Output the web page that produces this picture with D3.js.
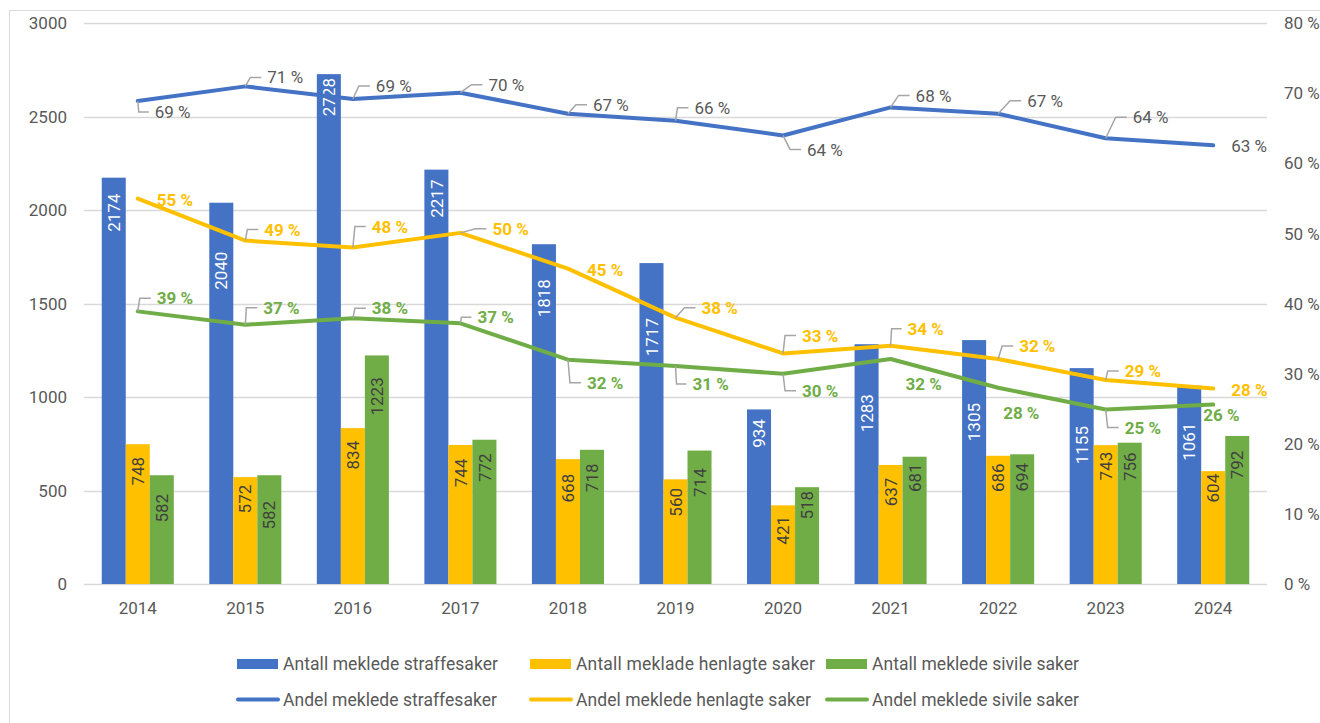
<!DOCTYPE html>
<html>
<head>
<meta charset="utf-8">
<script src="https://cdn.jsdelivr.net/npm/d3@7/dist/d3.min.js"></script>
<style>
  html, body { margin: 0; padding: 0; background: #fff; }
  svg { display: block; font-family: Roboto, "Open Sans", sans-serif; }
</style>
</head>
<body>
<svg id="chart" width="1320" height="723"></svg>
<script>
// ---- DATA ----
const years = ["2014","2015","2016","2017","2018","2019","2020","2021","2022","2023","2024"];
const antallStraff   = [2174, 2040, 2728, 2217, 1818, 1717, 934, 1283, 1305, 1155, 1061];
const antallHenlagte = [748, 572, 834, 744, 668, 560, 421, 637, 686, 743, 604];
const antallSivile   = [582, 582, 1223, 772, 718, 714, 518, 681, 694, 756, 792];
const andelStraff    = [68.9, 71.0, 69.2, 70.1, 67.1, 66.1, 64.0, 68.0, 67.1, 63.6, 62.6];
const andelHenlagte  = [55.0, 49.0, 48.0, 50.1, 45.0, 38.0, 32.9, 34.0, 32.1, 29.1, 27.9];
const andelSivile    = [38.9, 37.0, 37.9, 37.2, 32.0, 31.1, 30.0, 32.1, 28.0, 24.9, 25.6];
const leftTicks  = [0, 500, 1000, 1500, 2000, 2500, 3000];
const rightTicks = [0, 10, 20, 30, 40, 50, 60, 70, 80];
const barNames  = ["Antall meklede straffesaker", "Antall meklade henlagte saker", "Antall meklede sivile saker"];
const lineNames = ["Andel meklede straffesaker", "Andel meklede henlagte saker", "Andel meklede sivile saker"];

// ---- LAYOUT / STYLE (label placement tweaks, px) ----
const colors = ["#4472C4", "#FFC000", "#70AD47"];
const barLabelOffset = [
  [35, 68, 23, 29, 54, 74, 24, 69, 82, 77, 56],
  [27, 22, 27, 28, 29, 23, 25, 27, 22, 21, 17],
  [33, 40, 41, 28, 28, 32, 18, 21, 23, 24, 29]
];
// [dx, dy, leader]
const pctLabelPlace = [
  [[17,11,1],[22,-9,1],[23,-13,1],[28,-8,1],[25,-9,1],[19,-13,1],[24,14,1],[25,-12,1],[29,-13,1],[27,-21,1],[18,1,0]],
  [[19,1,0],[19,-11,1],[19,-21,1],[32,-4,1],[19,1,0],[26,-10,1],[19,-18,1],[17,-17,1],[21,-13,1],[19,-9,1],[18,1,0]],
  [[19,-13,1],[18,-17,1],[19,-10,1],[17,-6,1],[19,23,1],[17,18,1],[19,17,1],[15,25,0],[5,25,0],[19,18,1],[-10,10,0]]
];
const legX = [237, 530, 826];
const legTextW = [215, 239, 207];

const svg = d3.select("#chart");
const W = 1320, H = 723;
const plot = { left: 84, right: 1267, top: 23.3, bottom: 584 };

// chart border
svg.append("rect").attr("x", 9.5).attr("y", 10.5).attr("width", W).attr("height", H)
  .attr("fill", "none").attr("stroke", "#d9d9d9").attr("stroke-width", 1);

const x0 = d3.scaleBand().domain(years).range([plot.left, plot.right]).paddingInner(0.33).paddingOuter(0.165);
const x1 = d3.scaleBand().domain([0,1,2]).range([0, x0.bandwidth()]).padding(0);
const yL = d3.scaleLinear().domain([0, 3000]).range([plot.bottom, plot.top]);
const yR = d3.scaleLinear().domain([0, 80]).range([plot.bottom, plot.top]);
const cx = y => x0(y) + x0.bandwidth() / 2;

// gridlines
svg.append("g").selectAll("line").data(leftTicks).join("line")
  .attr("x1", plot.left).attr("x2", plot.right)
  .attr("y1", d => Math.round(yL(d)) + 0.5).attr("y2", d => Math.round(yL(d)) + 0.5)
  .attr("stroke", "#d9d9d9").attr("stroke-width", 1.3);

// axes
const axL = d3.axisLeft(yL).tickValues(leftTicks).tickSize(0).tickPadding(0).tickFormat(d3.format("d"));
const gL = svg.append("g").attr("transform", `translate(67,0)`).call(axL);
const axR = d3.axisRight(yR).tickValues(rightTicks).tickSize(0).tickPadding(0).tickFormat(d => d + " %");
const gR = svg.append("g").attr("transform", `translate(1284,0)`).call(axR);
const axB = d3.axisBottom(x0).tickSize(0).tickPadding(0);
const gB = svg.append("g").attr("transform", `translate(0,${plot.bottom + 24})`).call(axB);
[gL, gR, gB].forEach(g => {
  g.select(".domain").remove();
  g.selectAll("text").attr("fill", "#595959").style("font-size", "17px").style("font-family", "Roboto, sans-serif");
});
gB.selectAll("text").attr("dy", "0.35em");

// bars
const barSeries = [antallStraff, antallHenlagte, antallSivile];
barSeries.forEach((vals, s) => {
  const g = svg.append("g");
  g.selectAll("rect").data(vals).join("rect")
    .attr("x", (d, i) => x0(years[i]) + x1(s))
    .attr("y", d => yL(d))
    .attr("width", x1.bandwidth())
    .attr("height", d => yL(0) - yL(d))
    .attr("fill", colors[s]);
});

// bar labels
barSeries.forEach((vals, s) => {
  svg.append("g").selectAll("text").data(vals).join("text")
    .attr("transform", (d, i) => {
      const bx = x0(years[i]) + x1(s) + x1.bandwidth() / 2;
      const by = yL(d) + barLabelOffset[s][i];
      return `translate(${bx},${by}) rotate(-90)`;
    })
    .attr("text-anchor", "middle").attr("dy", "0.36em")
    .attr("fill", s === 0 ? "#ffffff" : "#404040")
    .style("font-size", "17px")
    .text(d => d);
});

// lines
const lineSeries = [andelStraff, andelHenlagte, andelSivile];
const lineGen = d3.line().x((d, i) => cx(years[i])).y(d => yR(d));
lineSeries.forEach((vals, s) => {
  svg.append("path").datum(vals)
    .attr("d", lineGen)
    .attr("fill", "none").attr("stroke", colors[s]).attr("stroke-width", 4)
    .attr("stroke-linejoin", "round").attr("stroke-linecap", "round");
});

// percent labels with leader lines
lineSeries.forEach((vals, s) => {
  const g = svg.append("g");
  vals.forEach((v, i) => {
    const px = cx(years[i]), py = yR(v);
    const [dx, dy, leader] = pctLabelPlace[s][i];
    const tx = px + dx, ty = py + dy;
    if (leader) {
      const bendX = Math.max(px + 1, tx - 17);
      const endX = tx - 6;
      g.append("path")
        .attr("d", `M${px},${py}L${bendX},${ty}L${endX},${ty}`)
        .attr("fill", "none").attr("stroke", "#a6a6a6").attr("stroke-width", 1.5);
    }
    g.append("text")
      .attr("x", tx).attr("y", ty).attr("dy", "0.36em")
      .attr("fill", s === 0 ? "#595959" : colors[s])
      .style("font-size", "17px")
      .style("font-weight", s === 0 ? "normal" : "bold")
      .text(Math.round(v) + " %");
  });
});

// legend
const leg = svg.append("g");
function legText(x, y, name, target) {
  const t = leg.append("text").attr("x", x).attr("y", y).attr("dy", "0.36em")
    .attr("fill", "#595959").style("font-size", "17.5px").text(name);
  const w = t.node().getComputedTextLength();
  const ls = (target - w) / Math.max(1, name.length - 1);
  t.style("letter-spacing", ls + "px");
}
barNames.forEach((name, s) => {
  leg.append("rect").attr("x", legX[s]).attr("y", 659).attr("width", 41).attr("height", 10).attr("fill", colors[s]);
  legText(legX[s] + 46, 663.5, name, legTextW[s]);
});
lineNames.forEach((name, s) => {
  leg.append("line").attr("x1", legX[s] + 1).attr("x2", legX[s] + 41).attr("y1", 699.5).attr("y2", 699.5)
    .attr("stroke", colors[s]).attr("stroke-width", 4).attr("stroke-linecap", "round");
  legText(legX[s] + 46, 699.5, name, [214, 235, 207][s]);
});
</script>
</body>
</html>
